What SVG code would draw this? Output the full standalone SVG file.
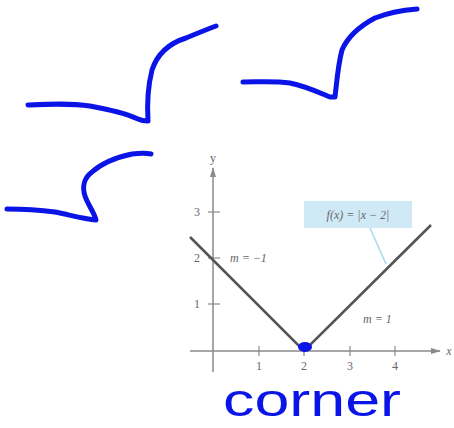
<svg xmlns="http://www.w3.org/2000/svg" width="454" height="428" viewBox="0 0 454 428">
<style>
.ink{fill:none;stroke:#0a14e6;stroke-width:5;stroke-linecap:round;stroke-linejoin:round}
.axis{stroke:#8a8a8a;stroke-width:1.5;fill:none}
.tick{stroke:#8a8a8a;stroke-width:1.2}
.lbl{font-family:"Liberation Serif",serif;font-size:12px;fill:#666}
.graph{stroke:#555;stroke-width:2.6;fill:none;stroke-linejoin:miter}
</style>
<defs>
<marker id="arr" viewBox="0 0 10 10" refX="9" refY="5" markerWidth="7" markerHeight="7" orient="auto"><path d="M0,2 L10,5 L0,8 Z" fill="#8a8a8a"/></marker>
</defs>
<rect width="454" height="428" fill="#fff"/>
<g id="sketch1"><path class="ink" d="M28,105 C50,104 70,103 90,106 C110,110 125,113 138,119 C142,121 146,121 148,121 C147,105 147,90 152,70 C158,52 170,43 186,38 C198,33 208,29 216,26"/></g>
<g id="sketch2"><path class="ink" d="M243,82 C260,82 275,81 290,83 C305,86 318,92 330,97 L335,97 C337,80 338,65 342,50 C348,36 360,26 375,18 C390,12 405,10 417,9"/></g>
<g id="sketch3"><path class="ink" d="M7,209 C25,209 40,210 55,212 C70,215 85,219 96,220 C94,212 88,205 85,196 C82,187 84,178 92,172 C102,163 118,157 132,154 C140,153 147,153 151,154"/></g>
<g id="axes">
<line class="axis" x1="190" y1="351" x2="440" y2="351" marker-end="url(#arr)"/>
<line class="axis" x1="213" y1="372" x2="213" y2="168" marker-end="url(#arr)"/>
<line class="tick" x1="259" y1="346" x2="259" y2="356"/>
<line class="tick" x1="304" y1="346" x2="304" y2="356"/>
<line class="tick" x1="350" y1="346" x2="350" y2="356"/>
<line class="tick" x1="395" y1="346" x2="395" y2="356"/>
<line class="tick" x1="208" y1="304" x2="220" y2="304"/>
<line class="tick" x1="208" y1="258" x2="220" y2="258"/>
<line class="tick" x1="208" y1="212" x2="220" y2="212"/>
<text class="lbl" x="213" y="162" text-anchor="middle">y</text>
<text class="lbl" x="449" y="355" text-anchor="middle" font-style="italic">x</text>
<text class="lbl" x="259" y="370" text-anchor="middle">1</text>
<text class="lbl" x="304" y="370" text-anchor="middle">2</text>
<text class="lbl" x="350" y="370" text-anchor="middle">3</text>
<text class="lbl" x="395" y="370" text-anchor="middle">4</text>
<text class="lbl" x="197" y="308" text-anchor="middle">1</text>
<text class="lbl" x="197" y="262" text-anchor="middle">2</text>
<text class="lbl" x="197" y="216" text-anchor="middle">3</text>
</g>
<g id="graph">
<polyline class="graph" points="190,237 304,351 431,225"/>
<text class="lbl" x="230" y="262" font-style="italic">m = −1</text>
<text class="lbl" x="363" y="323" font-style="italic">m = 1</text>
</g>
<g id="label">
<line x1="370" y1="228" x2="386" y2="264" stroke="#a8d8ee" stroke-width="1.5"/>
<rect x="304" y="201" width="108" height="27" fill="#cfe9f6"/>
<text class="lbl" x="358" y="219" text-anchor="middle" font-style="italic">f(x) = |x − 2|</text>
</g>
<g id="corner-dot"><ellipse cx="305" cy="347" rx="7" ry="5" fill="#0a14e6"/></g>
<g id="corner-text"><text x="223" y="416" font-family="Liberation Sans, sans-serif" font-size="46" fill="#0a14e6" textLength="178" lengthAdjust="spacingAndGlyphs">corner</text></g>
</svg>
